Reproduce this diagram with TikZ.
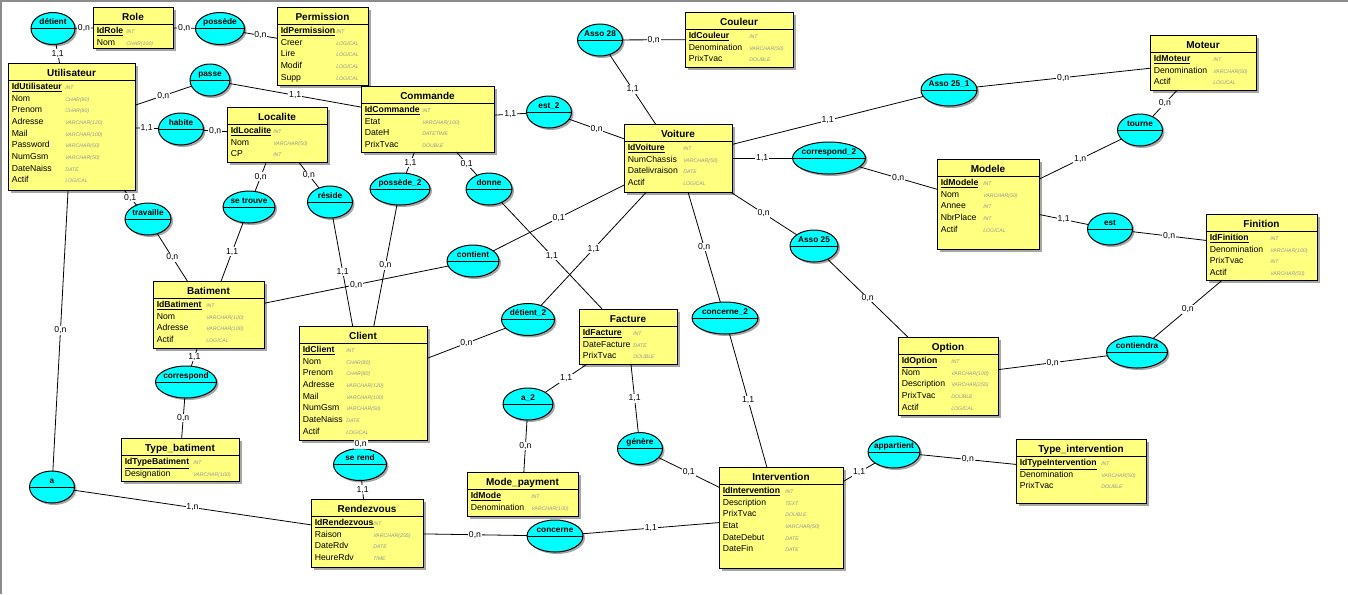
\documentclass[tikz,border=0pt]{standalone}
\usepackage{fontspec}
\setmainfont{Liberation Sans}
\usetikzlibrary{shapes.geometric,shadows,calc}
\definecolor{jaune}{HTML}{FFFF80}
\definecolor{cyanasso}{HTML}{00FFFF}
\definecolor{typgris}{RGB}{150,150,150}
\tikzset{
  ent/.style   = {rectangle, draw=black, fill=jaune, line width=0.75pt, anchor=north west,
                  inner sep=0pt, outer sep=0pt,
                  drop shadow={shadow xshift=2.2pt, shadow yshift=-2.2pt, fill=black!35, opacity=1}},
  titre/.style = {font=\bfseries\fontsize{7.5}{9}\selectfont, anchor=base, inner sep=0pt},
  attr/.style  = {font=\fontsize{6.5}{8}\selectfont, anchor=base west, inner sep=0pt},
  typ/.style   = {font=\itshape\fontsize{3.9}{4.5}\selectfont, text=typgris, anchor=base west, inner sep=0pt},
  asso/.style  = {ellipse, draw=black, fill=cyanasso, line width=0.75pt, minimum width=#1*0.75pt,
                  minimum height=24pt, inner sep=0pt, outer sep=0pt, font=\bfseries\fontsize{6.2}{7}\selectfont,
                  drop shadow={shadow xshift=1.5pt, shadow yshift=-1.5pt, fill=black!35, opacity=1},
                  path picture={\draw[line width=0.75pt] (path picture bounding box.west) -- (path picture bounding box.east);}},
  asso/.default = 45,
  lien/.style  = {draw=black, line width=0.6pt},
  card/.style  = {font=\fontsize{6.5}{8}\selectfont, fill=white, inner sep=0.6pt},
}
% libelle d'une association, au-dessus du trait
\newcommand{\lib}[1]{\makebox[0pt]{\raisebox{2.8pt}[0pt][0pt]{#1}}}
% entite : nom, x, y, largeur, hauteur, titre, colonne des types, attributs
\newcommand{\entite}[8]{%
  \node[ent, minimum width=#4*0.75pt, minimum height=#5*0.75pt] (#1) at (#2,#3) {};
  \node[titre] (#1-t) at ($(#1.north)+(0,13.5)$) {#6};
  \draw[line width=0.75pt] ($(#1.north west)+(0,17)$) -- ($(#1.north east)+(0,17)$);
  \foreach \nm/\tp [count=\i] in {#8} {
    \node[attr] (#1-a\i) at ($(#1.north west)+(3.5,{26.3+11.7*(\i-1)})$) {\ifnum\i=1 \underline{\textbf{\nm}}\else\nm\fi};
    \node[typ] (#1-y\i) at ($(#1.north west)+(#7,{26.3+11.7*(\i-1)})$) {\tp};
  }%
}
\begin{document}
\begin{tikzpicture}[x=0.75pt, y=-0.75pt]
  \path[use as bounding box, fill=white] (0,0) rectangle (1348,594);
  \draw[black!45, line width=1.2pt] (0,0.8) -- (1348,0.8);
  \draw[black!45, line width=1.2pt] (0.8,0) -- (0.8,594);

  % entites
  \entite{role}{93}{7}{80}{41}{Role}{33}{IdRole/INT, Nom/CHAR(100)}
  \entite{perm}{277}{7}{91}{78}{Permission}{59}{IdPermission/INT, Creer/LOGICAL, Lire/LOGICAL, Modif/LOGICAL, Supp/LOGICAL}
  \entite{util}{8}{63}{127}{127}{Utilisateur}{57}{IdUtilisateur/INT, Nom/CHAR(80), Prenom/CHAR(80), Adresse/VARCHAR(120), Mail/VARCHAR(100), Password/VARCHAR(50), NumGsm/VARCHAR(50), DateNaiss/DATE, Actif/LOGICAL}
  \entite{cmd}{361}{86}{133}{66}{Commande}{61}{IdCommande/INT, Etat/VARCHAR(100), DateH/DATETIME, PrixTvac/DOUBLE}
  \entite{loc}{227}{107}{100}{55}{Localite}{46}{IdLocalite/INT, Nom/VARCHAR(50), CP/INT}
  \entite{coul}{685}{12}{108}{55}{Couleur}{64}{IdCouleur/INT, Denomination/VARCHAR(50), PrixTvac/DOUBLE}
  \entite{voit}{624}{124}{108}{68}{Voiture}{59}{IdVoiture/INT, NumChassis/VARCHAR(50), Datelivraison/DATE, Actif/LOGICAL}
  \entite{mot}{1150}{35}{106}{55}{Moteur}{63}{IdMoteur/INT, Denomination/VARCHAR(50), Actif/LOGICAL}
  \entite{mod}{937}{159}{102}{90}{Modele}{46}{IdModele/INT, Nom/VARCHAR(50), Annee/INT, NbrPlace/INT, Actif/LOGICAL}
  \entite{fin}{1206}{214}{111}{66}{Finition}{64}{IdFinition/INT, Denomination/VARCHAR(100), PrixTvac/INT, Actif/VARCHAR(50)}
  \entite{opt}{898}{337}{100}{78}{Option}{53}{IdOption/INT, Nom/VARCHAR(100), Description/VARCHAR(255), PrixTvac/DOUBLE, Actif/LOGICAL}
  \entite{bat}{153}{281}{111}{67}{Batiment}{53}{IdBatiment/INT, Nom/VARCHAR(100), Adresse/VARCHAR(100), Actif/LOGICAL}
  \entite{tbat}{121}{438}{118}{43}{Type\_batiment}{72}{IdTypeBatiment/INT, Designation/VARCHAR(100)}
  \entite{cli}{299}{326}{128}{114}{Client}{47}{IdClient/INT, Nom/CHAR(80), Prenom/CHAR(80), Adresse/VARCHAR(120), Mail/VARCHAR(100), NumGsm/VARCHAR(50), DateNaiss/DATE, Actif/LOGICAL}
  \entite{rdv}{311}{499}{112}{68}{Rendezvous}{62}{IdRendezvous/INT, Raison/VARCHAR(255), DateRdv/DATE, HeureRdv/TIME}
  \entite{mpay}{467}{472}{111}{44}{Mode\_payment}{64}{IdMode/INT, Denomination/VARCHAR(100)}
  \entite{fact}{579}{309}{98}{55}{Facture}{54}{IdFacture/INT, DateFacture/DATE, PrixTvac/DOUBLE}
  \entite{inter}{719}{467}{124}{101}{Intervention}{66}{IdIntervention/INT, Description/TEXT, PrixTvac/DOUBLE, Etat/VARCHAR(50), DateDebut/DATE, DateFin/DATE}
  \entite{tinter}{1016}{439}{130}{64}{Type\_intervention}{85}{IdTypeIntervention/INT, Denomination/VARCHAR(50), PrixTvac/DOUBLE}

  % associations
  \node[asso=44] (detient) at (53,28.5) {\lib{détient}};
  \node[asso=49] (possede) at (220,28.5) {\lib{possède}};
  \node[asso=40] (passe) at (210,80) {\lib{passe}};
  \node[asso] (habite) at (181,129) {\lib{habite}};
  \node[asso] (asso28) at (600,40) {\lib{Asso 28}};
  \node[asso] (est2) at (549,112) {\lib{est\_2}};
  \node[asso=73] (corr2) at (829,158) {\lib{correspond\_2}};
  \node[asso=56] (asso251) at (949,90) {\lib{Asso 25\_1}};
  \node[asso] (tourne) at (1140,130) {\lib{tourne}};
  \node[asso] (est) at (1110,229) {\lib{est}};
  \node[asso=48] (asso25) at (814,246) {\lib{Asso 25}};
  \node[asso=61] (contiendra) at (1137,352) {\lib{contiendra}};
  \node[asso=66] (concerne2) at (725,318) {\lib{concerne\_2}};
  \node[asso=52] (contient) at (473,261) {\lib{contient}};
  \node[asso=46] (donne) at (489,189) {\lib{donne}};
  \node[asso=60] (possede2) at (400,189) {\lib{possède\_2}};
  \node[asso] (reside) at (330,202) {\lib{réside}};
  \node[asso=52] (setrouve) at (249,207) {\lib{se trouve}};
  \node[asso=46] (travaille) at (148,219) {\lib{travaille}};
  \node[asso=61] (correspond) at (186,382) {\lib{correspond}};
  \node[asso] (a) at (52,487) {\lib{a}};
  \node[asso=53] (serend) at (360,464.5) {\lib{se rend}};
  \node[asso=56] (concerne) at (555,536) {\lib{concerne}};
  \node[asso=50] (a2) at (528,404) {\lib{a\_2}};
  \node[asso=53] (detient2) at (528,319.5) {\lib{détient\_2}};
  \node[asso] (genere) at (640,448.5) {\lib{génère}};
  \node[asso=52] (appartient) at (894,452) {\lib{appartient}};

  % liens
  \draw[lien] (detient) -- node[card] {1,1} (util);
  \draw[lien] (detient) -- node[card] {0,n} (role);
  \draw[lien] (role) -- node[card] {0,n} (possede);
  \draw[lien] (possede) -- node[card] {0,n} (perm);
  \draw[lien] (util) -- node[card] {0,n} (passe);
  \draw[lien] (passe) -- node[card] {1,1} (cmd);
  \draw[lien] (util) -- node[card] {1,1} (habite);
  \draw[lien] (habite) -- node[card] {0,n} (loc);
  \draw[lien] (loc) -- node[card] {0,n} (setrouve);
  \draw[lien] (loc) -- node[card] {0,n} (reside);
  \draw[lien] (setrouve) -- node[card] {1,1} (bat);
  \draw[lien] (travaille) -- node[card] {0,n} (bat);
  \draw[lien] (util) -- node[card] {0,1} (travaille);
  \draw[lien] (reside) -- node[card] {1,1} (cli);
  \draw[lien] (possede2) -- node[card] {0,n} (cli);
  \draw[lien] (cmd) -- node[card] {1,1} (possede2);
  \draw[lien] (cmd) -- node[card] {0,1} (donne);
  \draw[lien] (donne) -- node[card] {1,1} (fact);
  \draw[lien] (cmd) -- node[card] {1,1} (est2);
  \draw[lien] (est2) -- node[card] {0,n} (voit);
  \draw[lien] (asso28) -- node[card] {0,n} (coul);
  \draw[lien] (asso28) -- node[card] {1,1} (voit);
  \draw[lien] (voit) -- node[card] {1,1} (asso251);
  \draw[lien] (asso251) -- node[card] {0,n} (mot);
  \draw[lien] (mot) -- node[card] {0,n} (tourne);
  \draw[lien] (tourne) -- node[card] {1,n} (mod);
  \draw[lien] (voit) -- node[card] {1,1} (corr2);
  \draw[lien] (corr2) -- node[card] {0,n} (mod);
  \draw[lien] (mod) -- node[card] {1,1} (est);
  \draw[lien] (est) -- node[card] {0,n} (fin);
  \draw[lien] (fin) -- node[card] {0,n} (contiendra);
  \draw[lien] (contiendra) -- node[card] {0,n} (opt);
  \draw[lien] (voit) -- node[card] {0,n} (asso25);
  \draw[lien] (asso25) -- node[card] {0,n} (opt);
  \draw[lien] (voit) -- node[card] {0,n} (concerne2);
  \draw[lien] (concerne2) -- node[card] {1,1} (inter);
  \draw[lien] (voit) -- node[card] {0,1} (contient);
  \draw[lien] (contient) -- node[card] {0,n} (bat);
  \draw[lien] (voit) -- node[card] {1,1} (detient2);
  \draw[lien] (detient2) -- node[card] {0,n} (cli);
  \draw[lien] (fact) -- node[card] {1,1} (a2);
  \draw[lien] (a2) -- node[card] {0,n} (mpay);
  \draw[lien] (fact) -- node[card] {1,1} (genere);
  \draw[lien] (genere) -- node[card] {0,1} (inter);
  \draw[lien] (inter) -- node[card] {1,1} (appartient);
  \draw[lien] (appartient) -- node[card] {0,n} (tinter);
  \draw[lien] (bat) -- node[card] {1,1} (correspond);
  \draw[lien] (correspond) -- node[card] {0,n} (tbat);
  \draw[lien] (util) -- node[card] {0,n} (a);
  \draw[lien] (a) -- node[card] {1,n} (rdv);
  \draw[lien] (cli) -- node[card] {0,n} (serend);
  \draw[lien] (serend) -- node[card] {1,1} (rdv);
  \draw[lien] (rdv) -- node[card] {0,n} (concerne);
  \draw[lien] (concerne) -- node[card] {1,1} (inter);
\end{tikzpicture}
\end{document}
